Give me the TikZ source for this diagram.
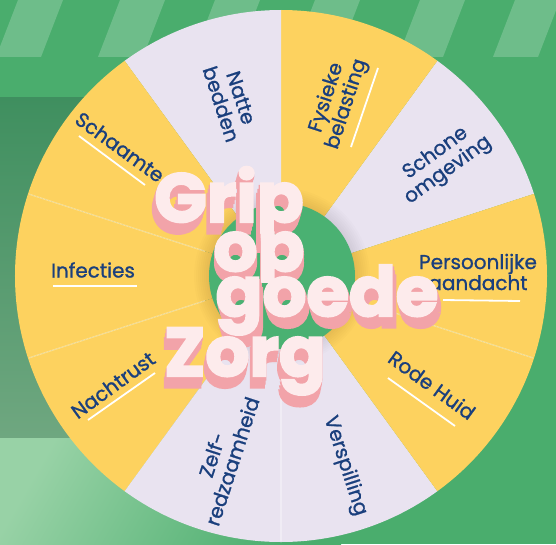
\documentclass[tikz,border=0pt]{standalone}
\usepackage{fontspec}
\setmainfont{Poppins}
\usepackage{tikz}

\definecolor{bg}{HTML}{4AAD6D}
\definecolor{bgdark}{HTML}{3F8F5F}
\definecolor{bglow}{HTML}{6FA780}
\definecolor{bglight}{HTML}{98D2A6}
\definecolor{yel}{HTML}{FDD25F}
\definecolor{lav}{HTML}{E9E3F0}
\definecolor{ink}{HTML}{1A3F7D}
\definecolor{hub}{HTML}{4AB172}
\definecolor{ttlface}{HTML}{FDEBEC}
\definecolor{ttlshade}{HTML}{F2A3A9}

\begin{document}
\begin{tikzpicture}[x=1pt,y=1pt,
    lbl/.style={text=ink, font=\fontsize{20}{21}\selectfont\addfontfeature{FakeBold=1}, align=center, inner sep=0pt},
    uline/.style={white, line width=1.8pt},
    seam/.style={white, opacity=0.35, line width=1.2pt},
    ttl/.style={font=\fontsize{69}{69}\selectfont\bfseries\addfontfeature{FakeBold=3}, inner sep=0pt, anchor=base},
    ttlback/.style={ttl, text=ttlshade, font=\fontsize{69}{69}\selectfont\bfseries\addfontfeature{FakeBold=4.5}}]
    \useasboundingbox (-281,-268) rectangle (275,276);
    \fill[bg] (-281,-268) rectangle (275,276);
    \foreach \x in {18,120,215,315,420,515}
        \fill[white, opacity=0.2] (\x-281,276) -- (\x-236,276) -- (\x-258,219) -- (\x-303,219) -- cycle;
    \shade[top color=bgdark, bottom color=bglow] (-281,179) rectangle (0,-162);
    \shade[left color=bglight, right color=bg, shading angle=60] (-281,-162) rectangle (60,-268);

    \foreach \a/\c in {18/lav,54/yel,90/lav,126/yel,162/yel,198/yel,234/lav,270/lav,306/yel,342/yel}
        \fill[\c] (0,0) -- (\a:266) arc[start angle=\a, end angle=\a+36, radius=266] -- cycle;
    \foreach \a in {162,198,-18,-90}
        \draw[seam] (\a:80) -- (\a:265);
    \foreach \r in {88,86,...,74}
        \fill[black, opacity=0.012] (1,0) circle (\r);
    \fill[hub] (1,0) circle (73);

    \node[lbl, rotate=-72] (natte) at (-50,175) {Natte\\bedden};
    \node[lbl, rotate=72] (fysiek) at (56,175) {Fysieke\\belasting};
    \node[lbl, rotate=36] (schoon) at (161,114) {Schone\\omgeving};
    \node[lbl] (aandacht) at (197,4) {Persoonlijke\\aandacht};
    \node[lbl, rotate=-36] (huid) at (151,-109) {Rode Huid};
    \node[lbl, rotate=-72] (verspil) at (64,-190) {Verspilling};
    \node[lbl, rotate=72] (zelf) at (-59,-182) {Zelf-\\redzaamheid};
    \node[lbl, rotate=36] (nacht) at (-168,-109) {Nachtrust};
    \node[lbl] (infectie) at (-188,6) {Infecties};
    \node[lbl, rotate=-36] (schaamte) at (-161,129) {Schaamte};

    \draw[uline] (97,208) -- (70,129);
    \draw[uline] (162,-24) -- (239,-25);
    \draw[uline] (107,-102) -- (174,-150);
    \draw[uline] (-193,-144) -- (-126,-97);
    \draw[uline] (-228,-10) -- (-144,-10);
    \draw[uline] (-202,140) -- (-136,91);

    \foreach \word/\px/\py/\dx/\cut in {Grip/-52/54/-0.3/-268, op/-22/5/0/-6, goede/46/-40/0.3/-268, Zorg/-36/-100/-0.2/-268} {
        \begin{scope}
            \clip (-281,\cut) rectangle (275,276);
            \foreach \k in {11,7,3}
                \node[ttlback] at (\px+\k*\dx,\py-\k) {\word};
            \node[ttl, text=ttlface] (t-\word) at (\px,\py) {\word};
        \end{scope}
    }
\end{tikzpicture}
\end{document}
